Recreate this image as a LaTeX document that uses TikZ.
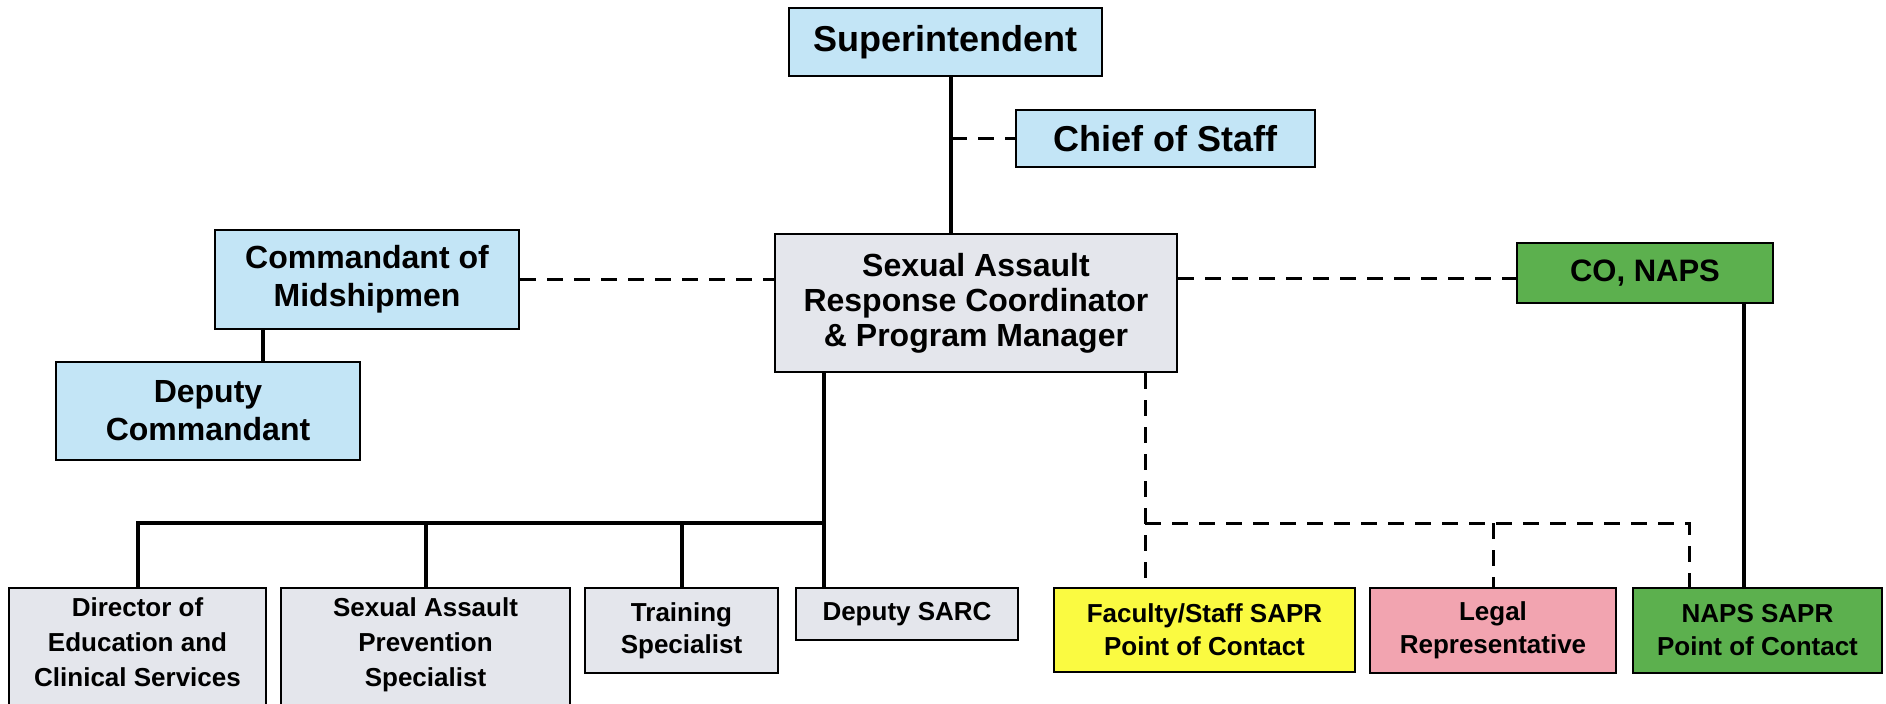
\documentclass[tikz,border=0pt]{standalone}
\usepackage{fontspec}
\setmainfont{Liberation Sans}
\definecolor{cblue}{RGB}{195,229,246}
\definecolor{cgray}{RGB}{228,230,236}
\definecolor{cyellow}{RGB}{250,250,65}
\definecolor{cpink}{RGB}{242,164,176}
\definecolor{cgreen}{RGB}{92,176,78}
\tikzset{
  box/.style={draw=black, line width=1pt, inner sep=0pt, align=center},
  bigtxt/.style={font=\fontsize{18}{20}\selectfont\bfseries},
  midtxt/.style={font=\fontsize{16}{19}\selectfont\bfseries},
  smalltxt/.style={font=\fontsize{13}{17}\selectfont\bfseries},
  bluebox/.style={box, fill=cblue},
  graybox/.style={box, fill=cgray},
  solidline/.style={line width=2pt},
  dashline/.style={line width=1.5pt, dash pattern=on 8pt off 5.5pt},
}
\begin{document}
\begin{tikzpicture}[x=0.5pt, y=-0.5pt]
\useasboundingbox (0,0) rectangle (1886,703);
\clip (0,0) rectangle (1886,703);
\fill[white] (0,0) rectangle (1886,703);

% nodes
\node[bluebox, bigtxt, minimum width=156.5pt, minimum height=34pt] (sup) at (945.5,42) {Superintendent};
\node[bluebox, bigtxt, minimum width=149.5pt, minimum height=28.5pt] (cos) at (1165.5,138.5) {Chief of Staff};
\node[graybox, font=\fontsize{16}{17.5}\selectfont\bfseries, minimum width=201pt, minimum height=69pt] (sarc) at (976,303) {Sexual Assault\\Response Coordinator\\\& Program Manager};
\node[bluebox, midtxt, minimum width=152pt, minimum height=49.5pt] (com) at (367,279.5) {Commandant of\\Midshipmen};
\node[bluebox, midtxt, minimum width=152pt, minimum height=49pt] (dep) at (208,411) {Deputy\\Commandant};
\node[box, fill=cgreen, font=\fontsize{15.5}{18}\selectfont\bfseries, minimum width=128pt, minimum height=30pt] (conaps) at (1645,273) {CO, NAPS};

\node[graybox, font=\fontsize{13}{17.5}\selectfont\bfseries, minimum width=128.5pt, minimum height=62pt] (dir) at (137.5,650) {Director of\\Education and\\Clinical Services\\[-9.5pt]\mbox{}};
\node[graybox, font=\fontsize{13}{17.5}\selectfont\bfseries, minimum width=144.5pt, minimum height=62pt] (sap) at (425.5,650) {Sexual Assault\\Prevention\\Specialist\\[-9.5pt]\mbox{}};
\node[graybox, font=\fontsize{13}{16}\selectfont\bfseries, minimum width=96.5pt, minimum height=42.5pt] (trn) at (681.5,630.5) {Training\\Specialist};
\node[graybox, smalltxt, minimum width=111pt, minimum height=26pt] (dsarc) at (907,614) {Deputy SARC};
\node[box, fill=cyellow, font=\fontsize{13}{16.5}\selectfont\bfseries, minimum width=150.5pt, minimum height=42pt] (fac) at (1204.5,630) {Faculty/Staff SAPR\\Point of Contact};
\node[box, fill=cpink, font=\fontsize{13}{16.5}\selectfont\bfseries, minimum width=123pt, minimum height=42.5pt] (legal) at (1493,630.5) {Legal\\Representative};
\node[box, fill=cgreen, font=\fontsize{13}{16.5}\selectfont\bfseries, minimum width=124.5pt, minimum height=42.5pt] (naps) at (1757.5,630.5) {NAPS SAPR\\Point of Contact};

% helper coordinates
\coordinate (j1) at (951,137);
\coordinate (r1) at (1177,278);
\coordinate (c1) at (263,340);
\coordinate (n1) at (1744,400);
\coordinate (bus) at (824,523);
\coordinate (db) at (1145,523);
\coordinate (dn) at (1689,523);

% solid connectors
\draw[solidline] (sup.south -| j1) -- (sarc.north -| j1);
\draw[solidline] (com.south -| c1) -- (dep.north -| c1);
\draw[solidline] (conaps.south -| n1) -- (naps.north -| n1);
\draw[solidline] (sarc.south -| bus) -- (dsarc.north -| bus);
\draw[solidline] (bus) -| (dir.north);
\draw[solidline] (bus -| sap.north) -- (sap.north);
\draw[solidline] (bus -| trn.north) -- (trn.north);

% dashed connectors
\draw[dashline] (cos.west -| j1) -- (cos.west);
\draw[dashline] (com.east) -- (com.east -| sarc.west);
\draw[dashline] (r1 -| sarc.east) -- (r1 -| conaps.west);
\draw[dashline] (sarc.south -| db) -- (fac.north -| db);
\draw[dashline] (db) -- (dn) -- (naps.north -| dn);
\draw[dashline] (legal.north |- db) -- (legal.north);
\end{tikzpicture}
\end{document}
